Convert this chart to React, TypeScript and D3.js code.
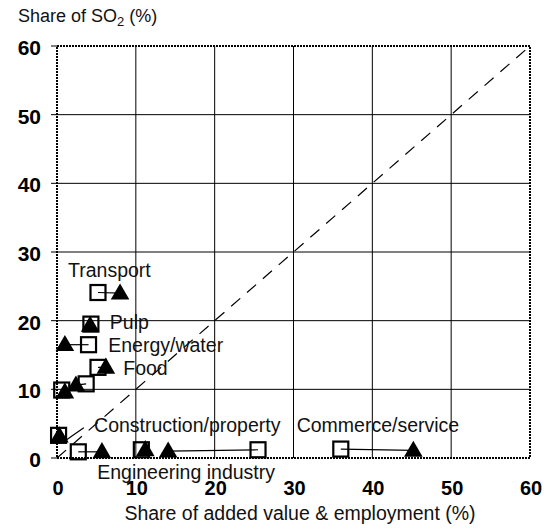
import React from "react";
import * as d3 from "d3";

const sectors = ["Transport", "Pulp", "Energy/water", "Food", "Other A", "Other B", "Construction/property", "Engineering industry", "Other C", "Other D", "Commerce/service"];
const valueAddedX = [5.2, 4.3, 4.0, 5.2, 3.7, 0.6, 0.2, 2.7, 10.7, 25.5, 36.0];
const valueAddedY = [24.1, 19.5, 16.5, 13.2, 10.8, 9.9, 3.3, 0.9, 1.2, 1.2, 1.3];
const employmentX = [8.0, 4.2, 1.0, 6.2, 2.4, 1.0, 0.3, 5.7, 11.2, 14.1, 45.2];
const employmentY = [24.0, 19.3, 16.5, 13.2, 10.6, 9.6, 3.2, 0.9, 1.2, 1.0, 1.1];
const xTicks = [0, 10, 20, 30, 40, 50, 60];
const yTicks = [0, 10, 20, 30, 40, 50, 60];
const labelTexts = ["Transport", "Pulp", "Energy/water", "Food", "Construction/property", "Commerce/service", "Engineering industry"];
const labelX = [1.4, 6.7, 6.5, 8.4, 4.7, 30.4, 5.1];
const labelY = [27.4, 19.8, 16.5, 13.1, 4.8, 4.8, -2.0];

const W = 553, H = 530;
const FONT = "'Liberation Sans', Arial, Helvetica, sans-serif";

export default function App() {
  const x = d3.scaleLinear().domain([0, 60]).range([57, 530]);
  const y = d3.scaleLinear().domain([0, 60]).range([458, 46]);
  const tri = d3.symbol().type(d3.symbolTriangle).size(150)();
  const sq = 15;
  return (
    <svg width={W} height={H} style={{ position: "absolute", left: 0, top: 0, background: "#fff" }} fontFamily={FONT}>
      <rect width={W} height={H} fill="#fff" />
      {/* grid */}
      {xTicks.slice(1, -1).map((t) => (
        <line key={"gx" + t} x1={x(t)} x2={x(t)} y1={y(0)} y2={y(60)} stroke="#000" strokeWidth={1} />
      ))}
      {yTicks.slice(1, -1).map((t) => (
        <line key={"gy" + t} x1={x(0)} x2={x(60)} y1={y(t)} y2={y(t)} stroke="#000" strokeWidth={1} />
      ))}
      {/* diagonal */}
      <line x1={x(0)} y1={y(0)} x2={x(60)} y2={y(60)} stroke="#000" strokeWidth={1.2} strokeDasharray="12,9" />
      {/* border */}
      <rect x={x(0)} y={y(60)} width={x(60) - x(0)} height={y(0) - y(60)} fill="none" stroke="#000" strokeWidth={2} strokeDasharray="2,1" />
      {/* ticks */}
      {yTicks.map((t) => (
        <line key={"ty" + t} x1={x(0) - 6} x2={x(0)} y1={y(t)} y2={y(t)} stroke="#000" strokeWidth={1} />
      ))}
      {yTicks.map((t) => (
        <text key={"ly" + t} x={41} y={y(t) + 1.5} dy="0.35em" textAnchor="end" fontSize={21} fontWeight="bold">{t}</text>
      ))}
      {xTicks.map((t) => (
        <text key={"lx" + t} x={x(t) + 1} y={495} textAnchor="middle" fontSize={20} fontWeight="bold">{t}</text>
      ))}
      {/* connectors */}
      {sectors.map((s, i) => (
        <line key={"c" + i} x1={x(valueAddedX[i])} y1={y(valueAddedY[i])} x2={x(employmentX[i])} y2={y(employmentY[i])} stroke="#000" strokeWidth={1.2} />
      ))}
      {/* leader for construction */}
      <line x1={x(0.9)} y1={y(2.4)} x2={x(3.4)} y2={y(4.4)} stroke="#000" strokeWidth={1.2} />
      {/* markers */}
      {sectors.map((s, i) => (
        <path key={"t" + i} d={tri} transform={`translate(${x(employmentX[i])},${y(employmentY[i]) + 1})`} fill="#000" />
      ))}
      {sectors.map((s, i) => (
        <rect key={"s" + i} x={x(valueAddedX[i]) - sq / 2} y={y(valueAddedY[i]) - sq / 2} width={sq} height={sq} fill="none" stroke="#000" strokeWidth={2.2} />
      ))}
      {/* labels */}
      {labelTexts.map((t, i) => (
        <text key={"lab" + i} x={x(labelX[i])} y={y(labelY[i])} dy="0.35em" fontSize={19.5} fill="#111">{t}</text>
      ))}
      {/* axis titles */}
      <text x={18} y={22} fontSize={18} fill="#111">
        Share of SO<tspan fontSize={13} dy={4}>2</tspan><tspan dy={-4}> (%)</tspan>
      </text>
      <text x={300} y={520} textAnchor="middle" fontSize={19.5} fill="#111">Share of added value &amp; employment (%)</text>
    </svg>
  );
}
